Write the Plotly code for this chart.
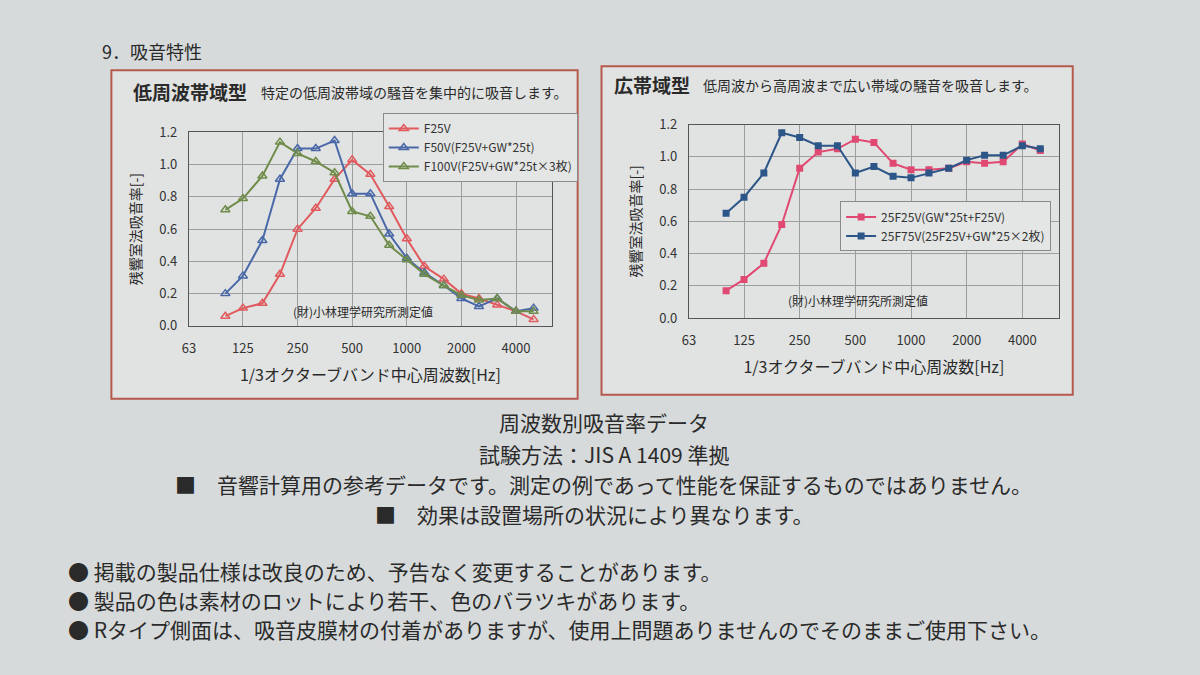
import math
import plotly.graph_objects as go

# 1/3 octave band centre frequencies [Hz]
freqs = [100, 125, 160, 200, 250, 315, 400, 500, 630, 800,
         1000, 1250, 1600, 2000, 2500, 3150, 4000, 5000]

# low-frequency type (left chart)
f25v = [0.06, 0.11, 0.14, 0.32, 0.60, 0.73, 0.91, 1.03, 0.94, 0.74,
        0.54, 0.37, 0.29, 0.20, 0.17, 0.13, 0.09, 0.04]
f50v = [0.20, 0.31, 0.53, 0.91, 1.10, 1.10, 1.15, 0.82, 0.82, 0.57,
        0.42, 0.33, 0.25, 0.17, 0.12, 0.17, 0.09, 0.11]
f100v = [0.72, 0.79, 0.93, 1.14, 1.07, 1.02, 0.95, 0.71, 0.68, 0.50,
         0.41, 0.32, 0.25, 0.19, 0.16, 0.17, 0.09, 0.09]

# broadband type (right chart)
f25_25v = [0.17, 0.24, 0.34, 0.58, 0.93, 1.03, 1.05, 1.11, 1.09, 0.96,
           0.92, 0.92, 0.93, 0.97, 0.96, 0.97, 1.08, 1.04]
f25_75v = [0.65, 0.75, 0.90, 1.15, 1.12, 1.07, 1.07, 0.90, 0.94, 0.88,
           0.87, 0.90, 0.93, 0.98, 1.01, 1.01, 1.07, 1.05]

tick_vals = [63, 125, 250, 500, 1000, 2000, 4000]
tick_text = ['63', '125', '250', '500', '1000', '2000', '4000']

JP = 'Noto Sans CJK JP'
W, H = 1200, 675


def px(x):
    return x / W


def py(y):
    return 1 - y / H


fig = go.Figure()

# left chart traces
for name, vals, col in [
    ('F25V', f25v, '#e05a5e'),
    ('F50V(F25V+GW*25t)', f50v, '#4a68a8'),
    ('F100V(F25V+GW*25t×3枚)', f100v, '#6f8c4a'),
]:
    fig.add_trace(go.Scatter(
        x=freqs, y=vals, name=name, mode='lines+markers',
        line=dict(color=col, width=2),
        marker=dict(symbol='triangle-up-open', size=8, color=col, line=dict(width=1.5)),
        xaxis='x', yaxis='y', legend='legend'))

# right chart traces
for name, vals, col in [
    ('25F25V(GW*25t+F25V)', f25_25v, '#e04a72'),
    ('25F75V(25F25V+GW*25×2枚)', f25_75v, '#2d5688'),
]:
    fig.add_trace(go.Scatter(
        x=freqs, y=vals, name=name, mode='lines+markers',
        line=dict(color=col, width=2),
        marker=dict(symbol='square', size=7, color=col),
        xaxis='x2', yaxis='y2', legend='legend2'))

xax = dict(type='log', range=[math.log10(63), math.log10(6300)],
           tickvals=tick_vals, ticktext=tick_text,
           showgrid=True, gridcolor='#9c9e9e', gridwidth=1,
           showline=True, mirror=True, linecolor='#555', linewidth=1.2,
           ticks='', ticklabelstandoff=10,
           tickfont=dict(family=JP, size=13, color='#333'),
           title=dict(text='1/3オクターブバンド中心周波数[Hz]', standoff=14,
                      font=dict(family=JP, size=16, color='#2a2a2a')))
yax = dict(range=[0, 1.2], dtick=0.2, tickformat='.1f',
           showgrid=True, gridcolor='#9c9e9e', gridwidth=1,
           showline=True, mirror=True, linecolor='#555', linewidth=1.2,
           ticks='', ticklabelstandoff=8, zeroline=False,
           tickfont=dict(family=JP, size=13, color='#333'),
           title=dict(text='残響室法吸音率[-]', standoff=14,
                      font=dict(family=JP, size=14, color='#2a2a2a')))

legend_style = dict(bgcolor='#e4e6e5', bordercolor='#8a8a8a', borderwidth=1,
                    font=dict(family=JP, size=12, color='#333'),
                    xanchor='left', yanchor='top', tracegroupgap=0)

fig.update_layout(
    width=W, height=H,
    margin=dict(l=0, r=0, t=0, b=0),
    paper_bgcolor='#d7dadb',
    plot_bgcolor='#e4e6e5',
    font=dict(family=JP, color='#2a2a2a'),
    xaxis=dict(xax, domain=[px(183), px(548)], anchor='y'),
    yaxis=dict(yax, domain=[py(325), py(126)], anchor='x'),
    xaxis2=dict(xax, domain=[px(686), px(1058)], anchor='y2'),
    yaxis2=dict(yax, domain=[py(317), py(118)], anchor='x2'),
    legend=dict(legend_style, x=px(378), y=py(106)),
    legend2=dict(legend_style, x=px(838), y=py(197)),
    showlegend=True,
)

# chart frames
fig.add_shape(type='rect', xref='paper', yref='paper', layer='below',
              x0=px(105), x1=px(574), y0=py(400), y1=py(62),
              fillcolor='#e1e3e2', line=dict(color='#b55a4c', width=2))
fig.add_shape(type='rect', xref='paper', yref='paper', layer='below',
              x0=px(598), x1=px(1072), y0=py(396), y1=py(58),
              fillcolor='#e1e3e2', line=dict(color='#b55a4c', width=2))


def note(x, y, text, size, anchor='left', bold=False):
    fig.add_annotation(x=px(x), y=py(y), xref='paper', yref='paper',
                       text=f'<b>{text}</b>' if bold else text,
                       showarrow=False, xanchor=anchor, yanchor='middle',
                       borderpad=0,
                       font=dict(family=JP, size=size, color='#2a2a2a'))


note(95, 42, '9．吸音特性', 18)
note(126, 84, '低周波帯域型', 19, bold=True)
note(254, 84, '特定の低周波帯域の騒音を集中的に吸音します。', 14)
note(610, 77, '広帯域型', 19, bold=True)
note(699, 77, '低周波から高周波まで広い帯域の騒音を吸音します。', 14)
note(358, 310, '(財)小林理学研究所測定値', 12, anchor='center')
note(856, 299, '(財)小林理学研究所測定値', 12, anchor='center')

note(600, 424, '周波数別吸音率データ', 21, anchor='center')
note(600, 457, '試験方法：JIS A 1409 準拠', 21, anchor='center')
note(600, 488, '■　音響計算用の参考データです。測定の例であって性能を保証するものではありません。', 21, anchor='center')
note(590, 519, '■　効果は設置場所の状況により異なります。', 21, anchor='center')
note(60, 577, '● 掲載の製品仕様は改良のため、予告なく変更することがあります。', 21)
note(60, 607, '● 製品の色は素材のロットにより若干、色のバラツキがあります。', 21)
note(60, 637, '● Rタイプ側面は、吸音皮膜材の付着がありますが、使用上問題ありませんのでそのままご使用下さい。', 21)

fig.write_html('out.html', config={'displayModeBar': False},
               post_script="document.body.style.margin='0px';")
